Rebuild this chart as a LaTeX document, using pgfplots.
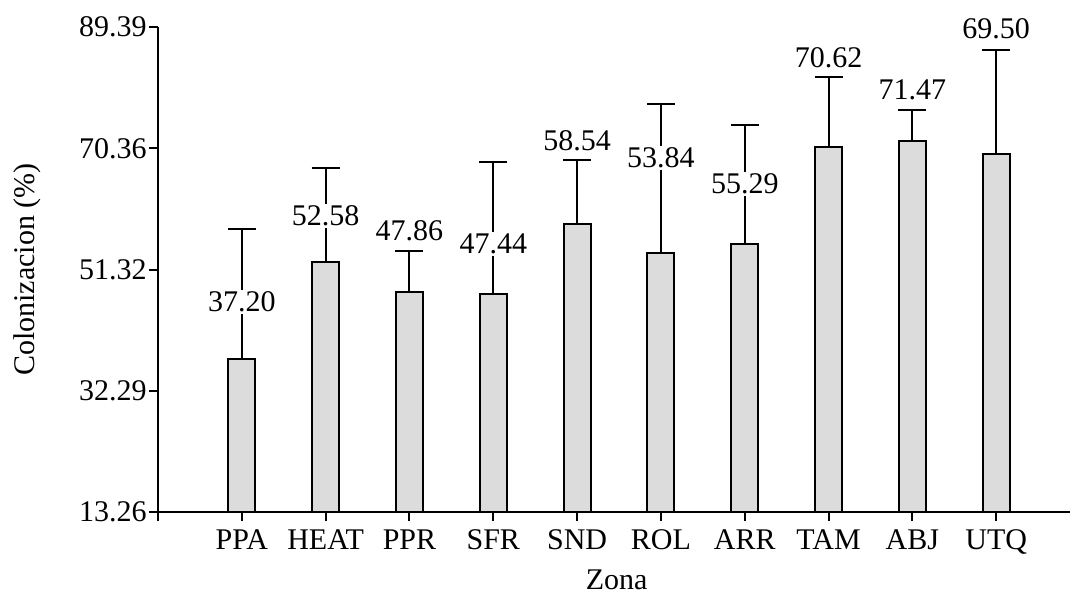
\documentclass[border=0pt]{standalone}
\usepackage{fontspec}
\setmainfont{Liberation Serif}
\usepackage{pgfplots}
\pgfplotsset{compat=1.18}
\definecolor{barfill}{HTML}{DCDCDC}
\begin{document}
\begin{tikzpicture}[font=\fontsize{15}{18}\selectfont]
\useasboundingbox (-79pt,-41pt) rectangle (456.5pt,256pt);
\begin{axis}[
  at={(0,0)}, anchor=south west,
  scale only axis, width=456pt, height=242.5pt,
  xmin=-1, xmax=9.88, ymin=13.26, ymax=89.39,
  axis x line=bottom, axis y line=left,
  axis line style={-, line width=1pt},
  tick style={line width=1pt, black},
  tick align=outside, major tick length=4.5pt,
  every tick label/.append style={font=\fontsize{15}{18}\selectfont},
  label style={font=\fontsize{15}{18}\selectfont},
  xtick={-1,0,...,9},
  xticklabels={,PPA,HEAT,PPR,SFR,SND,ROL,ARR,TAM,ABJ,UTQ},
  xticklabel style={yshift=-1pt},
  ytick={13.26,32.29,51.32,70.36,89.39},
  yticklabels={13.26,32.29,51.32,70.36,89.39},
  yticklabel style={inner sep=1pt},
  xlabel={Zona}, ylabel={Colonizacion (\%)},
  xlabel style={at={(axis description cs:0.503,-0.140)}, anchor=center, inner sep=0pt},
  ylabel style={at={(axis description cs:-0.1436,0.5)}, anchor=center, inner sep=0pt},
  clip mode=individual,
]
\addplot[ybar, bar width=13.5pt, fill=barfill, draw=black, line width=1pt,
  error bars/.cd, y dir=plus, y explicit,
  error bar style={line width=1pt, black},
  error mark options={rotate=90, line width=1pt, mark size=7pt, black}]
  table[x=x, y=y, y error=e] {
  x y e
  0 37.20 20.51
  1 52.58 14.61
  2 47.86 6.35
  3 47.44 20.69
  4 58.54 9.90
  5 53.84 23.44
  6 55.29 18.70
  7 70.62 11.00
  8 71.47 4.87
  9 69.50 16.25
};
\begin{scope}[every node/.style={fill=white, inner sep=1pt, font=\fontsize{15}{18}\selectfont}]
\node at (axis cs:0,46.2) {37.20};
\node at (axis cs:1,59.71) {52.58};
\node at (axis cs:2,57.43) {47.86};
\node at (axis cs:3,55.31) {47.44};
\node at (axis cs:4,71.48) {58.54};
\node at (axis cs:5,68.81) {53.84};
\node at (axis cs:6,64.73) {55.29};
\node at (axis cs:7,84.5) {70.62};
\node at (axis cs:8,79.56) {71.47};
\node at (axis cs:9,89.05) {69.50};
\end{scope}
\end{axis}
\end{tikzpicture}
\end{document}
